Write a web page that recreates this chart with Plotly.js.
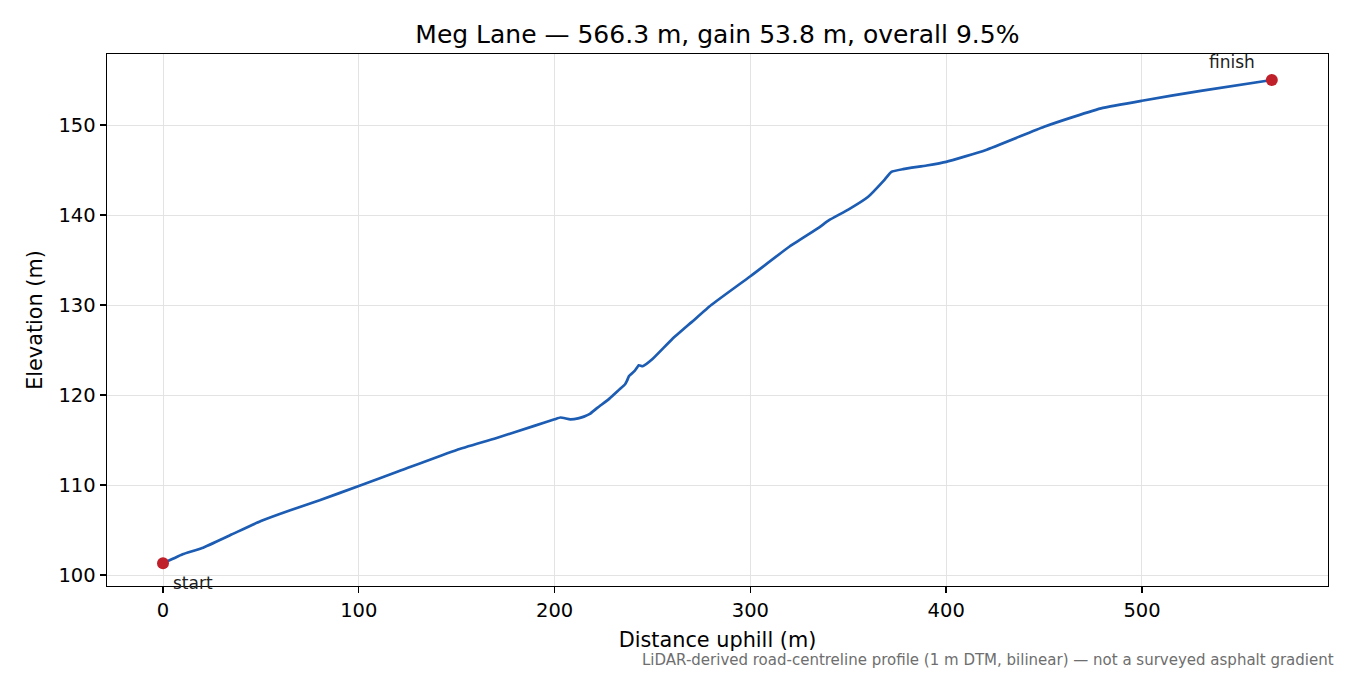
<!DOCTYPE html>
<html><head><meta charset="utf-8">
<script src="https://cdn.plot.ly/plotly-3.0.1.min.js"></script>
<style>html,body{margin:0;padding:0;background:#fff}</style>
</head><body><div id="chart" style="width:1350px;height:675px"></div>
<script>
const distance = [0, 5, 10, 20, 35, 50, 65, 80, 100, 120, 150, 170, 190, 200, 203, 208, 212, 215, 218, 222, 228, 233, 236, 237, 238, 241, 243, 245, 250, 260, 270, 280, 300, 320, 335, 340, 350, 360, 368, 372, 378, 390, 400, 420, 450, 465, 480, 500, 530, 566.3];
const elevation = [101.3, 101.8, 102.3, 103.0, 104.5, 106.0, 107.2, 108.3, 109.9, 111.5, 113.9, 115.2, 116.6, 117.3, 117.5, 117.3, 117.4, 117.6, 117.9, 118.6, 119.6, 120.6, 121.2, 121.6, 122.1, 122.7, 123.3, 123.2, 124.0, 126.2, 128.1, 130.0, 133.2, 136.5, 138.6, 139.4, 140.6, 142.0, 143.8, 144.8, 145.1, 145.5, 145.9, 147.2, 149.8, 150.9, 151.9, 152.7, 153.8, 155.0];
const endpointLabels = ["start", "finish"];
const titleText = "Meg Lane — 566.3 m, gain 53.8 m, overall 9.5%";
const footnote = "LiDAR-derived road-centreline profile (1 m DTM, bilinear) — not a surveyed asphalt gradient";

const n = distance.length;
const font = "DejaVu Sans, sans-serif";
const traces = [
  {x: distance, y: elevation, type: "scatter", mode: "lines",
   line: {color: "#1c5cb3", width: 2.7, shape: "spline", smoothing: 0.4}, hoverinfo: "x+y"},
  {x: [distance[0], distance[n-1]], y: [elevation[0], elevation[n-1]], type: "scatter", mode: "markers",
   marker: {color: "#c0202a", size: 12}}
];
const layout = {
  width: 1350, height: 675, showlegend: false,
  paper_bgcolor: "#fff", plot_bgcolor: "#fff",
  margin: {l: 107, r: 22, t: 54, b: 89},
  font: {family: font, size: 19.5, color: "#000"},
  title: {text: titleText, x: 0.5314, xanchor: "center", y: 0.95, yanchor: "middle", font: {family: font, size: 25, color: "#000"}},
  xaxis: {range: [-28.6, 595.0], tickvals: [0,100,200,300,400,500], showgrid: true, gridcolor: "#e3e3e3", gridwidth: 1,
          zeroline: false, showline: true, linecolor: "#000", linewidth: 1.4, mirror: true,
          ticks: "outside", ticklen: 6, tickcolor: "#000", tickwidth: 1.4, tickfont: {size: 19.5},
          title: {text: "Distance uphill (m)", font: {size: 20.8}, standoff: 11}},
  yaxis: {range: [98.78, 157.89], tickvals: [100,110,120,130,140,150], showgrid: true, gridcolor: "#e3e3e3", gridwidth: 1,
          zeroline: false, showline: true, linecolor: "#000", linewidth: 1.4, mirror: true,
          ticks: "outside", ticklen: 6, tickcolor: "#000", tickwidth: 1.4, tickfont: {size: 19.5},
          title: {text: "Elevation (m)", font: {size: 20.8}, standoff: 10}},
  annotations: [
    {x: distance[0], y: elevation[0], text: endpointLabels[0], showarrow: false, xanchor: "left", yanchor: "middle",
     xshift: 8, yshift: -20, font: {size: 17, color: "#222"}},
    {x: distance[n-1], y: elevation[n-1], text: endpointLabels[1], showarrow: false, xanchor: "right", yanchor: "middle",
     xshift: -15, yshift: 18, font: {size: 17, color: "#222"}},
    {xref: "paper", yref: "paper", x: 1.0065, y: -0.1395, xanchor: "right", yanchor: "middle", showarrow: false,
     text: footnote, font: {size: 15, color: "#6e6e6e"}}
  ]
};
Plotly.newPlot("chart", traces, layout, {displayModeBar: false, staticPlot: true});
</script></body></html>
